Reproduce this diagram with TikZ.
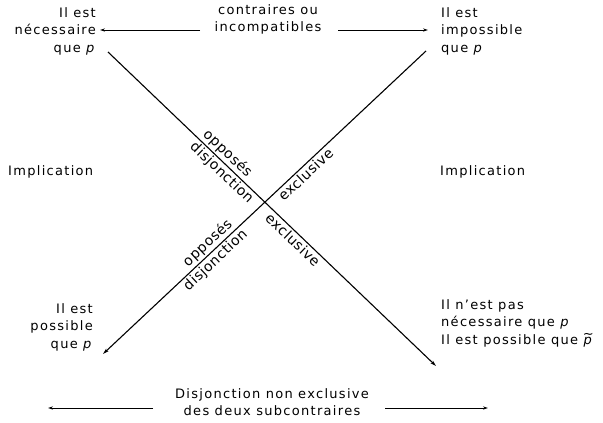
\documentclass[tikz,border=0pt]{standalone}
\usepackage{fontspec}
\setmainfont{DejaVu Sans}[LetterSpace=10]
\newfontfamily\rotfont{DejaVu Sans}[LetterSpace=4]
\usetikzlibrary{arrows.meta}
\newcommand\myptilde{\makebox[0pt][l]{\raisebox{0.42em}[0pt][0pt]{\kern-0.05em\textasciitilde}}\textit{p}}
\begin{document}
\begin{tikzpicture}[x=1pt,y=-1pt]
\tikzset{
 lbl/.style={font=\fontsize{13}{17.5}\selectfont, inner sep=0pt},
 conn/.style={line width=0.8pt, -{Stealth[length=5pt,width=3.2pt]}},
 diag/.style={line width=1.1pt, -{Stealth[length=6pt,width=3.5pt]}},
 onl/.style={font=\rotfont\fontsize{14}{16}\selectfont, sloped, inner sep=2pt},
}
\useasboundingbox (0,0) rectangle (603,423);
\node[lbl, align=right, anchor=north east] (nec) at (96,7) {Il est\\nécessaire\\que \textit{p}};
\node[lbl, align=left, anchor=north west] (imp) at (441,7) {Il est\\impossible\\que \textit{p}};
\node[lbl, align=right, anchor=north east] (pos) at (93,303) {Il est\\possible\\que \textit{p}};
\node[lbl, align=left, anchor=north west] (nnec) at (441,299) {Il n'est pas\\nécessaire que \textit{p}\\Il est possible que \myptilde};
\node[lbl, anchor=west] (impL) at (8,172) {Implication};
\node[lbl, anchor=west] (impR) at (440,172) {Implication};
\node[lbl, align=center, anchor=north] (contr) at (268,4) {contraires ou\\incompatibles};
\node[lbl, align=center, anchor=north] (disj) at (272,388) {Disjonction non exclusive\\des deux subcontraires};
\coordinate (tlA) at (200,30); \coordinate (tlB) at (100,30);
\coordinate (trA) at (338,30); \coordinate (trB) at (428,30);
\coordinate (blA) at (153,408); \coordinate (blB) at (48,408);
\coordinate (brA) at (385,408); \coordinate (brB) at (488,408);
\draw[conn] (tlA) -- (tlB);
\draw[conn] (trA) -- (trB);
\draw[conn] (blA) -- (blB);
\draw[conn] (brA) -- (brB);
\coordinate (d1s) at (108,52); \coordinate (d1e) at (436,366);
\coordinate (d2s) at (426,51); \coordinate (d2e) at (103,354);
\draw[diag] (d1s) -- (d1e);
\draw[diag] (d2s) -- (d2e);
\path (d1s) -- (d1e)
  node[onl, pos=0.345, above] (op1) {opposés}
  node[onl, pos=0.365, below] (dj1) {disjonction}
  node[onl, pos=0.58, below] (ex1) {exclusive};
\path (d2e) -- (d2s)
  node[onl, pos=0.611, below] (ex2) {exclusive}
  node[onl, pos=0.344, above] (op2) {opposés}
  node[onl, pos=0.33, below] (dj2) {disjonction};
\end{tikzpicture}
\end{document}
